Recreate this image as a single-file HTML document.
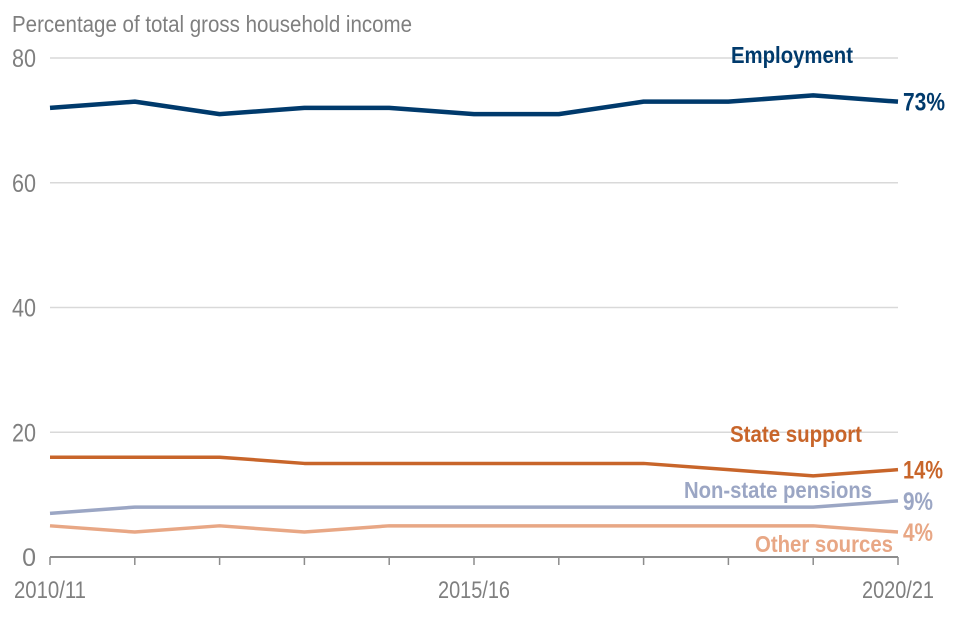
<!DOCTYPE html>
<html><head><meta charset="utf-8"><style>
html,body{margin:0;padding:0;background:#fff;width:960px;height:640px;overflow:hidden}
svg{display:block;font-family:"Liberation Sans Narrow","Liberation Sans",sans-serif}
</style></head><body>
<svg id="chart" width="960" height="640" viewBox="0 0 960 640">
<text x="12" y="32" font-size="23" fill="#7f7f7f" textLength="400" lengthAdjust="spacingAndGlyphs">Percentage of total gross household income</text>
<g id="grid"></g><g id="axes"></g><g id="series"></g><g id="labels"></g>
</svg>
<script>
const categories=["2010/11","2011/12","2012/13","2013/14","2014/15","2015/16","2016/17","2017/18","2018/19","2019/20","2020/21"];
const employment=[72,73,71,72,72,71,71,73,73,74,73];
const stateSupport=[16,16,16,15,15,15,15,15,14,13,14];
const pensions=[7,8,8,8,8,8,8,8,8,8,9];
const otherSources=[5,4,5,4,5,5,5,5,5,5,4];
const yTicks=[0,20,40,60,80];
const xTickLabels=["2010/11","2015/16","2020/21"];
const NS="http://www.w3.org/2000/svg";
const X0=50,X1=898,Y0=557,Y80=58;
const x=i=>X0+(X1-X0)*i/(categories.length-1);
const y=v=>Y0-(Y0-Y80)*v/80;
function mk(tag,attrs,parent){const e=document.createElementNS(NS,tag);for(const k in attrs)e.setAttribute(k,attrs[k]);parent.appendChild(e);return e;}
const grid=document.getElementById('grid'),axes=document.getElementById('axes'),ser=document.getElementById('series'),lab=document.getElementById('labels');
yTicks.forEach(t=>{
 if(t>0){const g=mk('line',{x1:X0,x2:X1,y1:y(t),y2:y(t),stroke:'#d9d9d9','stroke-width':1.5},grid);
 
 }
 const a={x:36,y:y(t)+9,'font-size':25,fill:'#7f7f7f','text-anchor':'end'};
 if(t>0){a.textLength=24;a.lengthAdjust='spacingAndGlyphs';}
 const tx=mk('text',a,axes);tx.textContent=t;
 
 
});
const ax=mk('line',{x1:X0,x2:X1,y1:Y0,y2:Y0,stroke:'#8c8c8c','stroke-width':2},axes);


categories.forEach((c,i)=>{const t=mk('line',{x1:x(i),x2:x(i),y1:Y0,y2:Y0+8,stroke:'#8c8c8c','stroke-width':1.5},axes);
 
 
 if(xTickLabels.includes(c)){const tx=mk('text',{x:x(i),y:598,'font-size':24,fill:'#7f7f7f','text-anchor':'middle',textLength:72,lengthAdjust:'spacingAndGlyphs'},axes);tx.textContent=c;
 
 }
});
const S=[
 {d:employment,c:'#003a6c',name:'employment',label:'Employment',lx:792,ly:63,lw:122,pct:'73%',pw:42},
 {d:stateSupport,c:'#c8652a',name:'state-support',label:'State support',lx:796,ly:442,lw:132,pct:'14%',pw:40},
 {d:pensions,c:'#9ba6c4',name:'non-state-pensions',label:'Non-state pensions',lx:778,ly:498,lw:188,pct:'9%',pw:30},
 {d:otherSources,c:'#e8a785',name:'other-sources',label:'Other sources',lx:824,ly:552,lw:138,pct:'4%',pw:30}
];
S.forEach(s=>{
 const p=mk('polyline',{points:s.d.map((v,i)=>x(i)+','+y(v)).join(' '),fill:'none',stroke:s.c,'stroke-width':s.name==='employment'?4.5:3.5,'stroke-linejoin':'round'},ser);
 
 
 const t=mk('text',{x:s.lx,y:s.ly,'font-size':23,'font-weight':'bold',fill:s.c,'text-anchor':'middle',textLength:s.lw,lengthAdjust:'spacingAndGlyphs'},lab);t.textContent=s.label;
 
 
 const last=s.d[s.d.length-1];
 const v=mk('text',{x:X1+5,y:y(last)+9,'font-size':25,'font-weight':'bold',fill:s.c,textLength:s.pw,lengthAdjust:'spacingAndGlyphs'},lab);v.textContent=s.pct;
 
 
});
</script>
</body></html>
